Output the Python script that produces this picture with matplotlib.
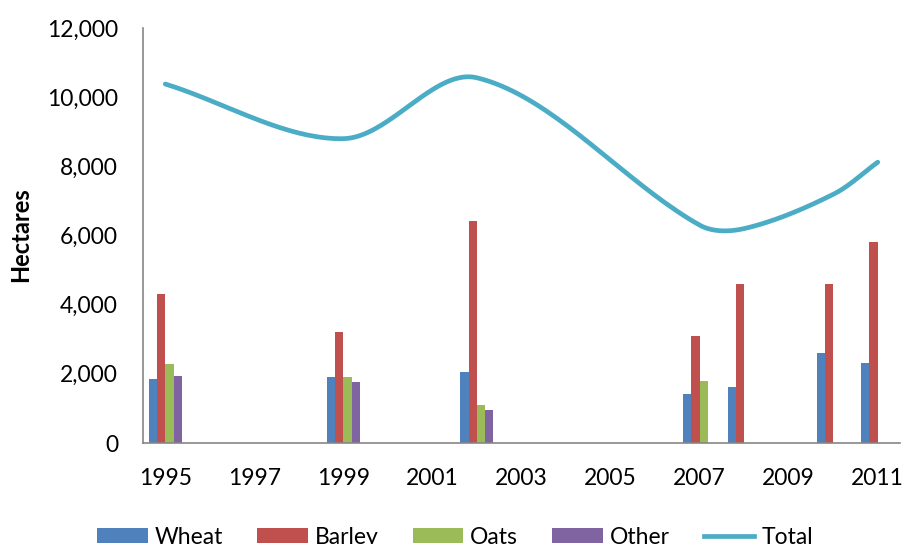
import numpy as np
import matplotlib
matplotlib.use("Agg")
import matplotlib.pyplot as plt
from matplotlib.patches import Patch
from matplotlib.lines import Line2D
from matplotlib.ticker import FuncFormatter

plt.rcParams['font.family'] = ['Lato', 'DejaVu Sans']

years = [1995, 1999, 2002, 2007, 2008, 2010, 2011]
wheat = [1850, 1900, 2060, 1410, 1610, 2590, 2300]
barley = [4300, 3200, 6425, 3100, 4595, 4595, 5800]
oats = [2275, 1915, 1100, 1790, np.nan, np.nan, np.nan]
other = [1940, 1770, 955, np.nan, np.nan, np.nan, np.nan]
total = [10380, 8800, 10560, 6300, 6200, 7190, 8120]

series_names = ["Wheat", "Barley", "Oats", "Other"]
colors = ["#4F81BD", "#C0504D", "#9BBB59", "#8064A2"]
line_color = "#4BACC6"

fig = plt.figure(figsize=(9.06, 5.44), dpi=100)
ax = fig.add_axes([143/906, 1-443/544, (900-143)/906, (443-28)/544])
ax.set_xlim(1994.5, 2011.5)
ax.set_ylim(0, 12000)

w = 0.185
yrs = np.array(years, dtype=float)
for i, (vals, c) in enumerate(zip([wheat, barley, oats, other], colors)):
    v = np.array(vals, dtype=float)
    m = ~np.isnan(v)
    ax.bar(yrs[m] + (i - 1.5) * w, v[m], width=w, color=c, edgecolor='none', zorder=2)

# Excel-like smoothed line (Bezier in display space)
pts = ax.transData.transform(np.column_stack([yrs, total]))
n = len(pts)
curve = []
t = np.linspace(0, 1, 40)
for k in range(n - 1):
    p0 = pts[max(k - 1, 0)]
    p1 = pts[k]
    p2 = pts[k + 1]
    p3 = pts[min(k + 2, n - 1)]
    d01 = np.hypot(*(p1 - p0))
    d12 = np.hypot(*(p2 - p1))
    d23 = np.hypot(*(p3 - p2))
    c1 = p1 + (p2 - p0) * (d12 / (d01 + d12)) / 3
    c2 = p2 - (p3 - p1) * (d12 / (d12 + d23)) / 3
    seg = ((1 - t)[:, None] ** 3 * p1 + 3 * ((1 - t) ** 2 * t)[:, None] * c1
           + 3 * ((1 - t) * t ** 2)[:, None] * c2 + (t ** 3)[:, None] * p2)
    curve.append(seg if k == 0 else seg[1:])
curve = np.vstack(curve)
cd = ax.transData.inverted().transform(curve)
ax.plot(cd[:, 0], cd[:, 1], color=line_color, lw=3.4, solid_capstyle='round', zorder=3)

ax.set_xticks(range(1995, 2012, 2))
ax.set_yticks(range(0, 12001, 2000))
ax.yaxis.set_major_formatter(FuncFormatter(lambda v, p: f"{int(v):,}"))
ax.tick_params(axis='both', length=0, pad=18, labelsize=16.5, colors='black')

for s in ['top', 'right']:
    ax.spines[s].set_visible(False)
for s in ['left', 'bottom']:
    ax.spines[s].set_color('#868686')
    ax.spines[s].set_linewidth(1.2)

fig.text(21/906, 1 - 235/544, "Hectares", rotation=90, fontsize=17, fontweight='bold',
         ha='center', va='center')

handles = [Patch(facecolor=c, edgecolor='none') for c in colors]
handles.append(Line2D([0], [0], color=line_color, lw=3.4))
labels = series_names + ["Total"]
fig.legend(handles, labels, loc='center', bbox_to_anchor=(455/906, 1 - 537/544), ncol=5,
           frameon=False, fontsize=16.5, handlelength=2.2, handleheight=0.65,
           handletextpad=0.3, columnspacing=1.5)

fig.savefig("out.png", dpi=100)
